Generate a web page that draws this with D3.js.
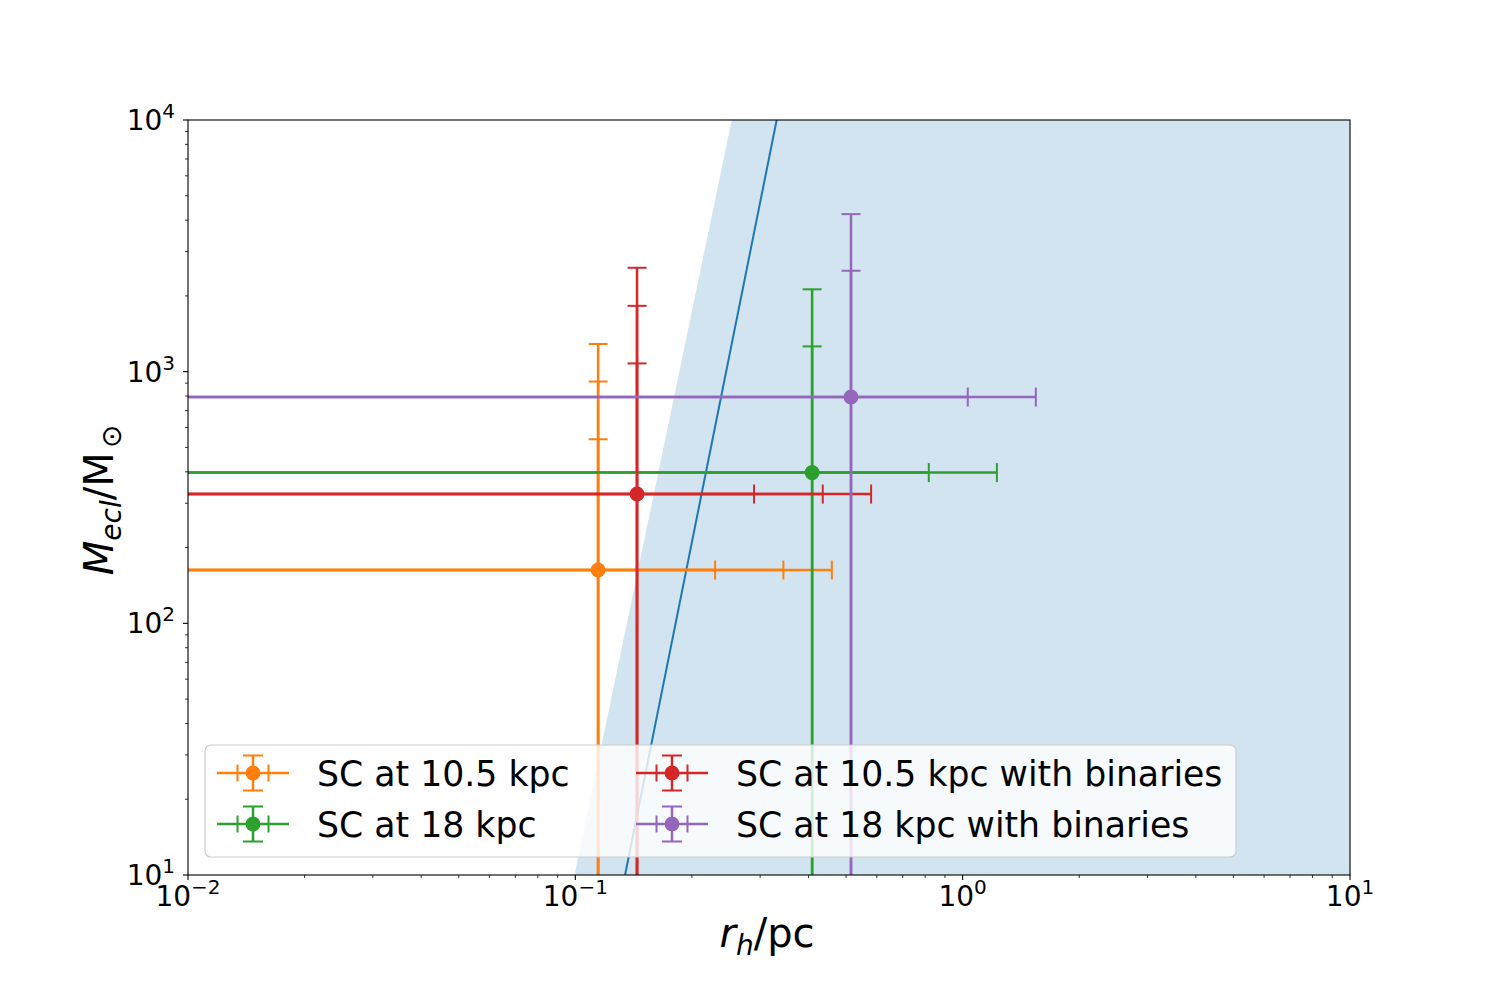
<!DOCTYPE html>
<html>
<head>
<meta charset="utf-8">
<script src="https://cdn.jsdelivr.net/npm/d3@7"></script>
<style>
  body { margin: 0; background: #fff; }
  svg { font-family: "DejaVu Sans", sans-serif; }
</style>
</head>
<body>
<div id="chart"></div>
<script>
var width = 1500,
    height = 1000;
var left = 188, right = 1350, top_ = 120, bottom = 875;

// cluster data: half-mass radius (pc), mass (Msun), error levels
var seriesNames = ["SC at 10.5 kpc", "SC at 18 kpc", "SC at 10.5 kpc with binaries", "SC at 18 kpc with binaries"];
var rhValues = [0.1145, 0.4086, 0.1443, 0.5149];
var massValues = [162.8, 397.2, 326.4, 792.6];
var rhErrors = [[0.115, 0.23, 0.345], [0.409, 0.817], [0.145, 0.291, 0.436], [0.516, 1.03]];
var massErrors = [[376, 751, 1125], [863, 1727], [752, 1500, 2261], [1725, 3434]];

// shaded region boundary and relation line (r_h, M)
var shadeR = [0.0995, 0.2534];
var shadeM = [10, 10000];
var lineR = [0.1344, 0.331];
var lineM = [10, 10000];

var xTicks = [0.01, 0.1, 1, 10];
var xTickExp = ["\u22122", "\u22121", "0", "1"];
var yTicks = [10, 100, 1000, 10000];
var yTickExp = ["1", "2", "3", "4"];

var colors = ["#ff7f0e", "#2ca02c", "#d62728", "#9467bd"];
var blue = "#1f77b4";

var x = d3.scaleLog().domain([1e-2, 1e1]).range([left, right]);
var y = d3.scaleLog().domain([1e1, 1e4]).range([bottom, top_]);

var svg = d3.select("#chart").append("svg")
    .attr("width", width)
    .attr("height", height);

svg.append("defs").append("clipPath")
    .attr("id", "plotclip")
    .append("rect")
    .attr("x", left).attr("y", top_)
    .attr("width", right - left).attr("height", bottom - top_);

var plot = svg.append("g").attr("clip-path", "url(#plotclip)");

// shaded area to the right of the boundary
var poly = [
    [x(shadeR[0]), y(shadeM[0])],
    [x(shadeR[1]), y(shadeM[1])],
    [x.range()[1], y(shadeM[1])],
    [x.range()[1], y(shadeM[0])]
];
plot.append("path")
    .attr("d", "M" + poly.join("L") + "Z")
    .style("fill", blue)
    .style("fill-opacity", 0.2);

plot.append("line")
    .attr("x1", x(lineR[0])).attr("y1", y(lineM[0]))
    .attr("x2", x(lineR[1])).attr("y2", y(lineM[1]))
    .style("stroke", blue)
    .style("stroke-width", 2);

// error bars
var cap = 9.5;
seriesNames.forEach(function (name, i) {
    var g = plot.append("g");
    var cx = x(rhValues[i]), cy = y(massValues[i]);
    rhErrors[i].forEach(function (e) {
        var lo = rhValues[i] - e;
        var x0 = lo > 0 ? x(lo) : left - 50;
        var x1 = x(rhValues[i] + e);
        g.append("line").attr("x1", x0).attr("x2", x1).attr("y1", cy).attr("y2", cy)
            .style("stroke", colors[i]).style("stroke-width", 2.5);
        g.append("line").attr("x1", x1).attr("x2", x1).attr("y1", cy - cap).attr("y2", cy + cap)
            .style("stroke", colors[i]).style("stroke-width", 2);
    });
    massErrors[i].forEach(function (e) {
        var lo = massValues[i] - e;
        var y0 = lo > 0 ? y(lo) : bottom + 50;
        var y1 = y(massValues[i] + e);
        g.append("line").attr("x1", cx).attr("x2", cx).attr("y1", y0).attr("y2", y1)
            .style("stroke", colors[i]).style("stroke-width", 2.5);
        g.append("line").attr("x1", cx - cap).attr("x2", cx + cap).attr("y1", y1).attr("y2", y1)
            .style("stroke", colors[i]).style("stroke-width", 2);
    });
    g.append("circle").attr("cx", cx).attr("cy", cy).attr("r", 7.5)
        .style("fill", colors[i]);
});

// axes
var axes = svg.append("g");
axes.append("rect")
    .attr("x", left).attr("y", top_)
    .attr("width", right - left).attr("height", bottom - top_)
    .style("fill", "none").style("stroke", "#000").style("stroke-width", 1.1);

var xMinor = [], yMinor = [];
for (var d = -2; d < 1; d++) for (var k = 2; k < 10; k++) xMinor.push(k * Math.pow(10, d));
for (var d2 = 1; d2 < 4; d2++) for (var k2 = 2; k2 < 10; k2++) yMinor.push(k2 * Math.pow(10, d2));

axes.selectAll(".xmaj").data(xTicks).enter().append("line")
    .attr("x1", function (v) { return x(v); }).attr("x2", function (v) { return x(v); })
    .attr("y1", bottom).attr("y2", bottom + 5)
    .style("stroke", "#000").style("stroke-width", 1.1);
axes.selectAll(".xmin").data(xMinor).enter().append("line")
    .attr("x1", function (v) { return x(v); }).attr("x2", function (v) { return x(v); })
    .attr("y1", bottom).attr("y2", bottom + 3)
    .style("stroke", "#000").style("stroke-width", 0.8);
axes.selectAll(".ymaj").data(yTicks).enter().append("line")
    .attr("y1", function (v) { return y(v); }).attr("y2", function (v) { return y(v); })
    .attr("x1", left).attr("x2", left - 5)
    .style("stroke", "#000").style("stroke-width", 1.1);
axes.selectAll(".ymin").data(yMinor).enter().append("line")
    .attr("y1", function (v) { return y(v); }).attr("y2", function (v) { return y(v); })
    .attr("x1", left).attr("x2", left - 3)
    .style("stroke", "#000").style("stroke-width", 0.8);

xTicks.forEach(function (v, i) {
    var t = axes.append("text")
        .attr("x", x(v)).attr("y", 906)
        .attr("text-anchor", "middle")
        .style("font-size", "28px");
    t.append("tspan").text("10");
    t.append("tspan").attr("dy", -12).style("font-size", "20px").text(xTickExp[i]);
});
yTicks.forEach(function (v, i) {
    var t = axes.append("text")
        .attr("x", 175).attr("y", y(v) + 10)
        .attr("text-anchor", "end")
        .style("font-size", "28px");
    t.append("tspan").text("10");
    t.append("tspan").attr("dy", -12).style("font-size", "20px").text(yTickExp[i]);
});

// axis labels
var xl = svg.append("text")
    .attr("x", 767).attr("y", 947)
    .attr("text-anchor", "middle")
    .style("font-size", "40px");
xl.append("tspan").style("font-style", "italic").text("r");
xl.append("tspan").attr("dy", 8).style("font-style", "italic").style("font-size", "28px").text("h");
xl.append("tspan").attr("dy", -8).text("/pc");

var yl = svg.append("text")
    .attr("transform", "translate(113,500) rotate(-90)")
    .attr("text-anchor", "middle")
    .style("font-size", "40px");
yl.append("tspan").style("font-style", "italic").text("M");
yl.append("tspan").attr("dy", 8).style("font-style", "italic").style("font-size", "28px").text("ecl");
yl.append("tspan").attr("dy", -8).text("/M");
yl.append("tspan").attr("dx", 4).attr("dy", 8).style("font-size", "28px").text("\u2299");

// legend
var legend = svg.append("g");
legend.append("rect")
    .attr("x", 205).attr("y", 745).attr("width", 1031).attr("height", 112)
    .attr("rx", 6)
    .style("fill", "#fff").style("fill-opacity", 0.8)
    .style("stroke", "#cccccc").style("stroke-width", 1.2);

var legendCols = [253, 672], legendRows = [773, 824];
seriesNames.forEach(function (name, i) {
    var hx = legendCols[Math.floor(i / 2)], hy = legendRows[i % 2];
    var g = legend.append("g").style("stroke", colors[i]);
    g.append("line").attr("x1", hx - 36).attr("x2", hx + 36).attr("y1", hy).attr("y2", hy).style("stroke-width", 2.5);
    [-15.5, 15.5].forEach(function (o) {
        g.append("line").attr("x1", hx + o).attr("x2", hx + o).attr("y1", hy - 8.5).attr("y2", hy + 8.5).style("stroke-width", 2);
    });
    g.append("line").attr("x1", hx).attr("x2", hx).attr("y1", hy - 17.5).attr("y2", hy + 17.5).style("stroke-width", 2.5);
    [-17.5, 17.5].forEach(function (o) {
        g.append("line").attr("x1", hx - 10).attr("x2", hx + 10).attr("y1", hy + o).attr("y2", hy + o).style("stroke-width", 2);
    });
    g.append("circle").attr("cx", hx).attr("cy", hy).attr("r", 7.5).style("fill", colors[i]).style("stroke", "none");
    legend.append("text")
        .attr("x", hx + 64).attr("y", hy + 13)
        .style("font-size", "34.7px")
        .style("fill", "#000")
        .text(name);
});
</script>
</body>
</html>
